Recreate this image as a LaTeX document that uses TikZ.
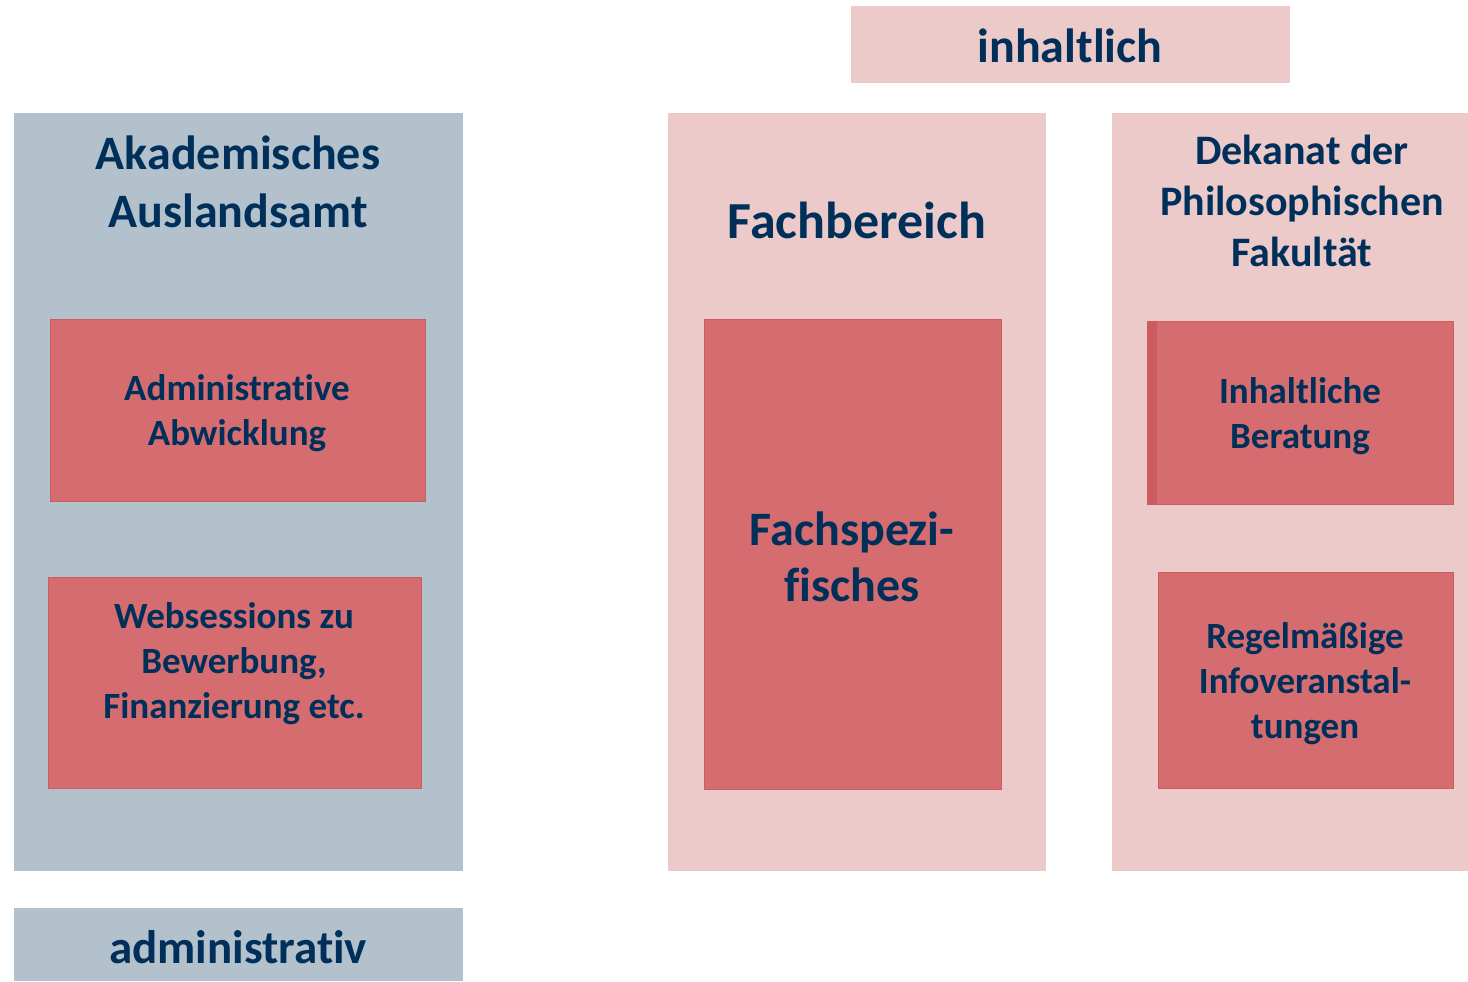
\documentclass[tikz,border=0pt]{standalone}
\usepackage{fontspec}
\setmainfont{Carlito}[Ligatures=NoCommon]
\usepackage{tikz}
\usetikzlibrary{positioning}
\definecolor{adminblue}{HTML}{B3C1CC}
\definecolor{lightrose}{HTML}{ECCACA}
\definecolor{boxred}{HTML}{D56C70}
\definecolor{boxedge}{HTML}{CC5C62}
\definecolor{textnavy}{HTML}{00305A}

\tikzset{
    panel/.style={rectangle, inner sep=0pt, outer sep=0pt},
    task/.style={rectangle, fill=boxred, draw=boxedge, line width=0.5pt, inner sep=0pt},
    label/.style={text=textnavy, font=\bfseries, align=center, inner sep=0pt},
}

\begin{document}
\begin{tikzpicture}[x=0.5pt,y=0.5pt,yscale=-1,xscale=1]
    \useasboundingbox (0,0) rectangle (1468,981);

    % Panels
    \node[panel, fill=lightrose, minimum width=219.5pt, minimum height=38.5pt] (inhalt) at (1070.5,44.5) {};
    \node[panel, fill=adminblue, minimum width=224.5pt, minimum height=379pt] (amt) at (238.5,492) {};
    \node[panel, fill=lightrose, minimum width=189pt, minimum height=379pt] (fach) at (857,492) {};
    \node[panel, fill=lightrose, minimum width=178pt, minimum height=379pt] (dekanat) at (1290,492) {};
    \node[panel, fill=adminblue, minimum width=224.5pt, minimum height=36.5pt] (admin) at (238.5,944.5) {};

    % Task boxes
    \node[task, minimum width=187.5pt, minimum height=91pt] (abwicklung) at (237.5,410) {};
    \node[task, minimum width=186.5pt, minimum height=105.5pt] (websession) at (234.5,682.5) {};
    \node[task, minimum width=148.5pt, minimum height=235pt] (fachspez) at (852.5,554) {};
    \node[task, minimum width=153pt, minimum height=91.5pt] (beratung) at (1300,412.5) {};
    \fill[boxedge] (beratung.north west) rectangle ++(10,183);
    \node[task, minimum width=147.5pt, minimum height=108pt] (infoveranst) at (1305.5,680) {};

    % Text Node
    \node[label, font=\bfseries\fontsize{24}{29}\selectfont] (inhalttext) at (1070,46) {inhaltlich};
    \node[label, font=\bfseries\fontsize{23.5}{29}\selectfont] (admintext) at (238,947) {administrat\kern0pt iv};
    \node[label, font=\bfseries\fontsize{24}{29}\selectfont] (amttext) at (238,182) {Akademisches\\Auslandsamt};
    \node[label, font=\bfseries\fontsize{26}{31}\selectfont] (fachtext) at (857,220) {Fachbereich};
    \node[label, font=\bfseries\fontsize{21}{25.5}\selectfont] (dekanattext) at (1302,201) {Dekanat der\\Philosophischen\\Fakultät};
    \node[label, font=\bfseries\fontsize{18.5}{22.5}\selectfont] (abwicklungtext) at (237,413) {Administrat\kern0pt ive\\Abwicklung};
    \node[label, font=\bfseries\fontsize{18.5}{22.5}\selectfont] (websessiontext) at (234,664) {Websessions zu\\Bewerbung,\\Finanzierung etc.};
    \node[label, font=\bfseries\fontsize{24}{28}\selectfont] (fachspeztext) at (852,557) {Fachspezi-\\f\kern0pt isches};
    \node[label, font=\bfseries\fontsize{18.5}{22.5}\selectfont] (beratungtext) at (1300,416) {Inhaltliche\\Beratung};
    \node[label, font=\bfseries\fontsize{18.5}{22.5}\selectfont] (infoveransttext) at (1305,684) {Regelmäßige\\Infoveranstal-\\tungen};

\end{tikzpicture}
\end{document}
